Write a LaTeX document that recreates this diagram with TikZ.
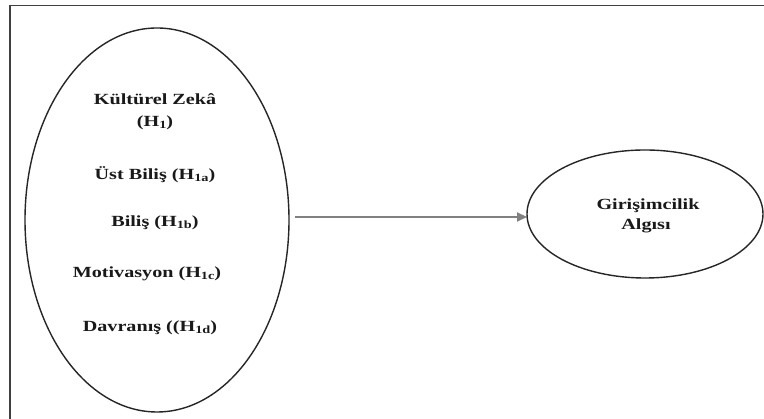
\documentclass[tikz,border=0pt]{standalone}
\usepackage{fontspec}
\setmainfont{Liberation Serif}
\usepackage{graphicx}
\usetikzlibrary{shapes.geometric,arrows.meta}
\newcommand{\wtxt}[1]{\scalebox{1.3}[1]{#1}}
\newcommand{\sbs}[1]{\raisebox{-1.5pt}{\fontsize{11}{12}\selectfont #1}}
\tikzset{
  oval/.style={ellipse, draw=black!85, line width=1.4pt, inner sep=0pt, outer sep=0pt},
  lbl/.style={anchor=base, inner sep=0pt, font=\fontsize{15.5}{18}\selectfont\bfseries, text=black!90},
  arr/.style={draw=black!50, line width=2pt, -{Triangle[length=10pt,width=9pt]}},
  frame/.style={draw=black!75, line width=1.5pt}
}
\begin{document}
\begin{tikzpicture}[x=1pt,y=1pt]
\useasboundingbox (0,0) rectangle (764,419);
\fill[white] (0,0) rectangle (764,419);
% frame (only top and left edges visible)
\coordinate (ftl) at (10,413.5);
\coordinate (fbl) at (10,0);
\coordinate (ftr) at (764,413.5);
\draw[frame] (fbl) -- (ftl) -- (ftr);
% ellipses
\node[oval, minimum width=264pt, minimum height=384pt] (L) at (157,199) {};
\node[oval, minimum width=236pt, minimum height=128pt] (R) at (645,205) {};
% arrow
\draw[arr] ([xshift=6pt,yshift=3pt]L.east) -- ([yshift=-3pt]R.west);
% left texts
\node[lbl] (t1) at (155,314) {\wtxt{Kültürel Zekâ}};
\node[lbl] (t2) at (155,292) {\wtxt{(H\sbs{1})}};
\node[lbl] (t3) at (155,239) {\wtxt{Üst Biliş (H\sbs{1a})}};
\node[lbl] (t4) at (155,192) {\wtxt{Biliş (H\sbs{1b})}};
\node[lbl] (t5) at (147,141) {\wtxt{Motivasyon (H\sbs{1c})}};
\node[lbl] (t6) at (150,87) {\wtxt{Davranış ((H\sbs{1d})}};
% right texts
\node[lbl] (r1) at (648,209) {\wtxt{Girişimcilik}};
\node[lbl] (r2) at (646,189) {\wtxt{Algısı}};
\end{tikzpicture}
\end{document}
